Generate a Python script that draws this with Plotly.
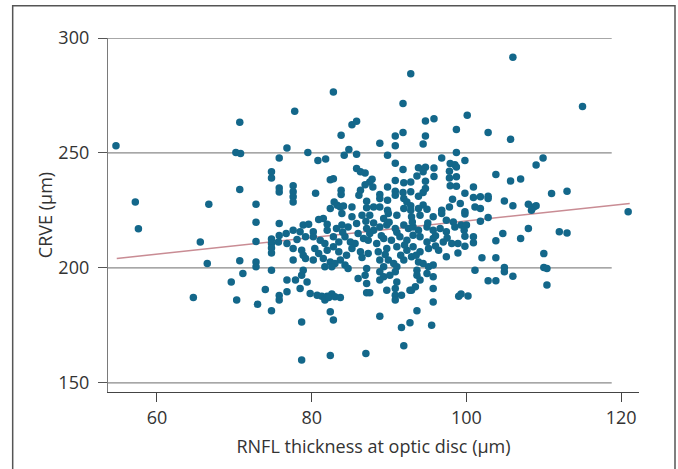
import plotly.graph_objects as go

# RNFL thickness (x) and CRVE (y) values
rnfl = [
    54.7, 70.7, 70.2, 70.8, 75.8, 74.8, 74.8, 70.7, 75.8, 75.8, 57.2, 66.7, 72.8,
    57.6, 65.6, 72.8, 75.8, 72.8, 74.8, 75.8, 74.8, 75.7, 74.8, 74.8, 66.5, 70.7, 72.8,
    72.8, 74.8, 71.1, 69.6, 74.0, 64.7, 70.3, 73.0, 75.8, 75.8, 74.8,
    92.8, 82.8, 77.8, 91.8, 85.2, 85.8, 94.7, 95.8, 98.7, 83.8, 90.8, 91.8, 94.7, 88.8,
    90.8, 94.4, 76.8, 84.8, 79.5, 84.2, 85.8, 89.8, 98.7, 80.8, 81.8, 96.8, 90.8, 97.9,
    98.5, 85.8, 86.3, 86.9, 91.8, 93.8, 94.7, 95.8, 94.4, 97.8, 98.7, 93.6, 95.8, 97.8,
    98.7, 82.4, 82.8, 87.8, 87.5, 86.9, 90.8, 91.9, 92.8, 94.7, 77.6, 77.6, 77.6, 77.6,
    80.5, 83.8, 83.8, 86.3, 86.1, 87.9, 89.8, 90.8, 91.8, 92.8, 94.4, 93.8, 94.7, 97.9,
    98.7, 88.8, 88.8, 89.8, 87.1, 82.9, 83.3, 83.7, 84.1, 85.2, 87.1, 88.0, 88.8, 90.8,
    91.9, 92.3, 92.8, 91.9, 92.8, 94.4, 94.9, 93.8, 96.8, 97.8, 98.2, 89.8, 82.4,
    106.0, 115.0, 100.1, 102.8, 105.7, 109.9, 109.0, 99.8, 103.8, 105.7, 107.0, 100.9,
    99.8, 100.9, 101.8, 102.8, 102.8, 99.2, 99.8, 101.1, 101.8, 104.9, 106.0, 108.0,
    108.7, 109.0, 108.4, 111.0, 113.0, 120.9,
    99.8, 102.8, 101.8, 99.3, 100.0, 99.7, 99.8, 100.9, 100.9, 98.9, 99.8, 98.9, 102.0,
    103.8, 103.8, 104.7, 101.1, 102.8, 103.8, 104.9, 104.9, 106.0, 107.0, 108.0, 110.0,
    110.0, 110.4, 110.4, 112.0, 113.0, 99.0, 99.3, 100.2,
    81.5, 80.9, 78.9, 79.6, 83.9, 85.2, 86.5, 87.5, 89.3, 89.9, 91.0, 92.9, 94.0, 95.7,
    96.8, 97.4, 98.3,
    77.6, 76.7, 78.5, 80.2, 82.0, 83.2, 83.9, 84.7, 85.8, 87.1, 88.0, 88.8, 89.7, 90.8,
    91.9, 92.5, 93.1, 93.8, 94.9, 95.7, 96.6, 97.4, 98.5,
    76.8, 78.1, 79.2, 80.2, 81.1, 81.7, 82.8, 83.5, 84.3, 85.0, 85.6, 86.7, 87.3, 88.4,
    89.3, 90.3, 91.4, 92.3, 93.1, 94.0, 94.9, 95.7, 97.0, 98.1,
    77.6, 78.7, 78.9, 80.4, 80.9, 82.0, 82.8, 83.5, 85.2, 86.3, 87.3, 88.6, 89.7, 91.0,
    92.3, 93.1, 94.0, 95.1, 96.4, 97.4,
    77.6, 79.2, 80.2, 81.5, 82.4, 83.0, 83.7, 84.3, 82.6, 81.7, 84.7, 87.1, 88.8, 89.3,
    89.9, 90.6, 91.0, 91.9, 92.9, 93.8, 94.4, 95.1, 95.7, 93.6,
    78.9, 78.7, 76.8, 77.9, 79.4, 86.0, 86.9, 87.1, 88.8, 89.3, 90.1, 90.8, 91.0, 88.8,
    93.6, 94.0, 94.9, 95.7, 93.4, 92.9, 76.8, 78.5, 79.8,
    80.7, 81.3, 82.0, 82.6, 81.7, 82.2, 83.0, 83.7, 87.1, 87.5, 89.7, 90.8, 90.8, 90.8,
    91.6, 92.7, 95.7, 95.7,
    78.7, 82.4, 82.8, 88.8, 92.7, 93.6, 91.6, 95.5, 91.9, 78.7, 82.4, 87.0,
    87.5, 89.0, 91.0, 92.0, 96.0, 97.5, 86.0, 84.0, 82.0, 88.0, 93.0, 95.0, 90.0, 87.0,
    96.0, 91.5, 89.5, 86.5, 84.5, 93.5,
]
crve = [
    253.1, 263.3, 250.2, 249.7, 247.8, 241.8, 239.1, 234.1, 234.8, 233.0, 228.7, 227.7, 227.7,
    217.0, 211.2, 219.9, 219.3, 211.5, 212.6, 214.1, 210.6, 211.2, 208.6, 206.5, 201.9, 203.1, 202.6,
    200.5, 199.0, 197.6, 193.8, 190.6, 187.1, 186.0, 184.2, 188.0, 186.0, 181.3,
    284.5, 276.5, 268.1, 271.5, 262.3, 263.8, 263.9, 264.9, 260.2, 257.7, 257.4, 258.9, 257.4, 254.2,
    253.1, 253.9, 252.2, 251.5, 250.2, 249.0, 249.4, 249.0, 250.2, 246.7, 247.4, 247.8, 245.5, 245.4,
    244.9, 243.2, 241.8, 241.3, 242.8, 243.6, 243.8, 243.5, 241.8, 242.0, 243.9, 240.0, 239.7, 239.1,
    239.6, 238.3, 238.8, 238.6, 237.4, 236.2, 238.0, 237.0, 237.4, 237.7, 235.7, 233.1, 230.9, 228.7,
    232.5, 233.8, 231.9, 233.8, 231.6, 235.2, 235.2, 233.3, 232.8, 233.1, 232.8, 231.2, 234.5, 235.7,
    235.5, 231.9, 230.2, 229.4, 229.0, 228.7, 227.2, 226.5, 226.9, 226.5, 226.1, 226.5, 226.5, 231.6,
    230.2, 228.7, 227.0, 225.8, 225.1, 227.3, 225.5, 225.8, 225.1, 226.5, 229.9, 225.1, 225.8,
    291.6, 270.2, 266.4, 258.9, 255.9, 247.8, 244.7, 246.7, 240.6, 237.8, 238.7, 235.2,
    232.5, 230.6, 230.9, 231.2, 230.2, 228.0, 224.4, 226.5, 225.8, 229.1, 227.0, 227.7,
    226.5, 227.0, 225.1, 232.3, 233.3, 224.4,
    223.4, 221.9, 220.3, 218.6, 218.6, 216.4, 213.8, 213.5, 210.9, 210.6, 209.4, 206.5, 204.4,
    204.4, 211.8, 214.9, 199.0, 194.4, 194.4, 200.2, 198.3, 196.4, 212.8, 217.1, 206.2,
    200.2, 199.7, 192.5, 215.7, 215.2, 187.7, 188.6, 187.8,
    221.5, 221.0, 218.6, 219.0, 223.6, 222.2, 222.9, 222.9, 221.5, 223.6, 222.9, 222.2, 222.9, 222.2,
    223.6, 220.7, 220.0,
    216.4, 214.9, 215.7, 215.7, 216.4, 217.1, 218.6, 217.8, 219.3, 217.1, 216.4, 217.8, 218.6, 217.1,
    218.6, 217.1, 217.8, 216.4, 217.8, 216.4, 217.1, 215.7, 217.8,
    210.6, 212.3, 213.5, 213.5, 212.0, 210.6, 213.5, 211.3, 213.5, 211.3, 210.6, 212.8, 212.0, 210.6,
    212.8, 212.0, 213.5, 212.0, 214.2, 213.5, 211.3, 212.8, 211.3, 210.6,
    208.4, 207.7, 205.5, 208.4, 206.3, 207.7, 209.2, 207.0, 208.4, 207.0, 206.3, 207.0, 208.4, 209.2,
    207.7, 209.2, 207.0, 208.4, 207.7, 204.8,
    203.4, 204.1, 203.4, 204.1, 202.6, 201.9, 203.4, 201.2, 200.5, 200.5, 199.7, 199.7, 203.4, 200.5,
    203.4, 201.9, 200.5, 203.4, 204.8, 202.6, 201.9, 200.5, 201.2, 199.0,
    199.0, 196.8, 194.7, 194.7, 193.9, 195.4, 196.8, 193.2, 198.3, 196.1, 196.8, 198.3, 193.9, 194.7,
    196.8, 194.7, 197.6, 196.1, 191.8, 190.3, 189.6, 191.0, 188.9,
    188.1, 187.7, 187.7, 188.6, 186.0, 187.1, 187.4, 187.1, 189.2, 189.2, 190.3, 191.0, 188.1, 186.0,
    188.1, 190.3, 191.0, 185.2,
    176.5, 180.9, 177.3, 179.0, 176.1, 181.3, 174.1, 175.0, 166.1, 159.9, 161.9, 162.8,
    215.0, 214.0, 215.5, 210.0, 214.0, 213.0, 215.0, 215.5, 219.0, 219.5, 220.0, 219.5, 219.8, 220.3,
    209.5, 205.5, 205.8, 204.5, 205.5, 205.5,
]

# Regression line end points
fit_x = [54.8, 121.1]
fit_y = [204.1, 228.0]

x_ticks = [60, 80, 100, 120]
y_ticks = [150, 200, 250, 300]

FONT = "Open Sans"
TXT = "#333333"

fig = go.Figure()
fig.add_trace(go.Scatter(
    x=fit_x, y=fit_y, mode="lines",
    line=dict(color="#c98c94", width=1.5),
    hoverinfo="skip", showlegend=False,
))
fig.add_trace(go.Scatter(
    x=rnfl, y=crve, mode="markers",
    marker=dict(color="#13678a", size=7.5, line=dict(width=0)),
    showlegend=False,
))

shapes = []
for yv in y_ticks:
    shapes.append(dict(type="line", xref="paper", yref="y", x0=0, x1=0.9486,
                       y0=yv, y1=yv, line=dict(color="#8a8a8a", width=1.3),
                       layer="below"))
# outer frame of the figure (open at the bottom, as in the reference crop)
shapes.append(dict(type="rect", xref="paper", yref="paper",
                   x0=-0.1795, x1=1.0678, y0=-0.30, y1=1.0912,
                   line=dict(color="#555555", width=1.5), layer="below"))

fig.update_layout(
    width=678, height=469,
    margin=dict(l=108, r=39, t=38, b=77),
    paper_bgcolor="white", plot_bgcolor="white",
    font=dict(family=FONT, size=18, color=TXT),
    shapes=shapes,
    xaxis=dict(
        range=[53.67, 122.3], tickvals=x_ticks, ticks="outside", ticklen=9,
        tickcolor="#444444", tickwidth=1.2,
        showline=True, linecolor="#444444", linewidth=1.3,
        showgrid=False, zeroline=False,
        tickfont=dict(family=FONT, size=18, color=TXT),
        ticklabelstandoff=0,
        title=dict(text="RNFL thickness at optic disc (µm)", standoff=12,
                   font=dict(family=FONT, size=18, color=TXT)),
    ),
    yaxis=dict(
        range=[146, 300], tickvals=y_ticks, ticks="outside", ticklen=9,
        tickcolor="#555555", tickwidth=1.2,
        showline=True, linecolor="#7a7a7a", linewidth=1.3,
        showgrid=False, zeroline=False,
        tickfont=dict(family=FONT, size=18, color=TXT),
        ticklabelstandoff=5,
        title=dict(text="CRVE (µm)", standoff=1,
                   font=dict(family=FONT, size=18, color=TXT)),
    ),
)

fig.write_html("out.html",
               config={"displayModeBar": False},
               post_script="document.body.style.margin='0';document.body.style.overflow='hidden';")
